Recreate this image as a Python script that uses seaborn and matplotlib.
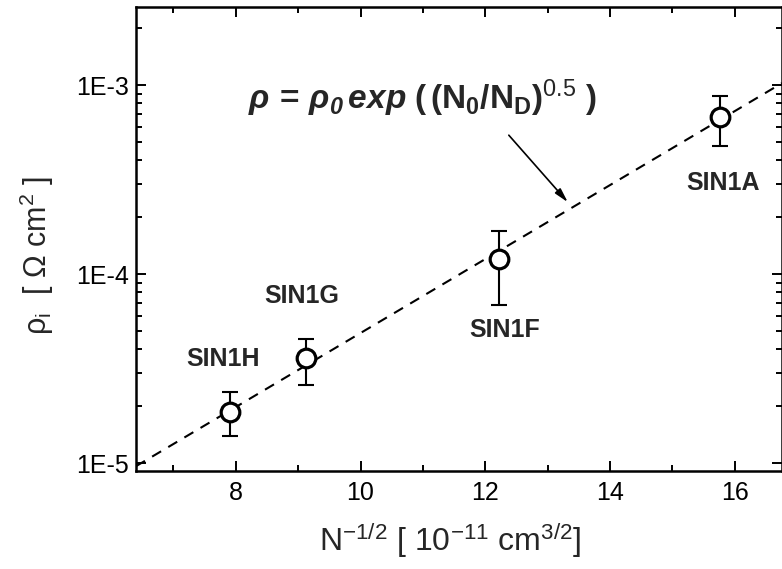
import numpy as np
import pandas as pd
import matplotlib
matplotlib.use("Agg")
import matplotlib.pyplot as plt
import matplotlib.ticker as mticker
import seaborn as sns

# ---- data ----
samples = ["SIN1H", "SIN1G", "SIN1F", "SIN1A"]
x_vals = [7.90, 9.13, 12.22, 15.77]
rho_vals = [1.87e-5, 3.58e-5, 1.20e-4, 6.8e-4]
rho_hi = [2.37e-5, 4.53e-5, 1.68e-4, 8.75e-4]
rho_lo = [1.39e-5, 2.59e-5, 6.9e-5, 4.75e-4]
fit_intercept = -6.269   # log10(rho) at x = 0
fit_slope = 0.1957       # per unit x
x_ticks = [8, 10, 12, 14, 16]
y_ticks = [1e-5, 1e-4, 1e-3]
y_ticklabels = ["1E-5", "1E-4", "1E-3"]

sns.set_theme(style="ticks")
plt.rcParams["font.family"] = ["Liberation Sans", "DejaVu Sans"]
plt.rcParams["mathtext.fontset"] = "custom"
plt.rcParams["mathtext.rm"] = "Liberation Sans"
plt.rcParams["mathtext.it"] = "Liberation Sans:italic"
plt.rcParams["mathtext.bf"] = "Liberation Sans:bold"
plt.rcParams["mathtext.bfit"] = "Liberation Sans:bold:italic"
plt.rcParams["mathtext.sf"] = "Liberation Sans"
plt.rcParams["axes.unicode_minus"] = False

fig = plt.figure(figsize=(7.82, 5.69), dpi=100)
ax = fig.add_axes([136 / 782, 1 - 471 / 569, 646 / 782, 464 / 569])

xlim = (6.40, 16.757)
ylim = (10 ** -5.042, 10 ** -2.587)

df = pd.DataFrame({"x": x_vals, "rho": rho_vals, "sample": samples})
xf = np.array(xlim)
fit_df = pd.DataFrame({"x": xf, "rho": 10 ** (fit_intercept + fit_slope * xf)})

sns.lineplot(data=fit_df, x="x", y="rho", ax=ax, color="black", lw=1.5,
             linestyle=(0, (5, 4)))

yerr = [np.array(rho_vals) - np.array(rho_lo), np.array(rho_hi) - np.array(rho_vals)]
ax.errorbar(x_vals, rho_vals, yerr=yerr, fmt="none", ecolor="black",
            elinewidth=1.5, capsize=6, capthick=1.5, zorder=3)
sns.scatterplot(data=df, x="x", y="rho", ax=ax, s=180, facecolor="white",
                edgecolor="black", linewidth=2.3, zorder=4, legend=False)

ax.set_yscale("log")
ax.set_xlim(*xlim)
ax.set_ylim(*ylim)

ax.set_xticks(x_ticks)
ax.set_xticklabels([str(t) for t in x_ticks], fontsize=18)
ax.xaxis.set_minor_locator(mticker.MultipleLocator(1))
ax.set_yticks(y_ticks)
ax.set_yticklabels(y_ticklabels, fontsize=18)
ax.yaxis.set_minor_locator(mticker.LogLocator(base=10, subs=np.arange(2, 10)))
ax.yaxis.set_minor_formatter(mticker.NullFormatter())

ax.tick_params(which="both", direction="in", top=True, right=True,
               width=1.4, colors="black")
ax.tick_params(which="major", length=7)
ax.tick_params(which="minor", length=4)
ax.tick_params(axis="x", pad=7)
ax.tick_params(axis="y", pad=5)
for s in ax.spines.values():
    s.set_linewidth(1.8)
    s.set_color("black")
    s.set_visible(True)

ax.set_xlabel("")
ax.set_ylabel("")
fig.text(450 / 782, 1 - 541 / 569,
         r"$\mathrm{N^{-1/2}\ [\ 10^{-11}\ cm^{3/2}]}$",
         ha="center", va="center", fontsize=23)
fig.text(37 / 782, 1 - 256 / 569,
         r"$\mathrm{\rho_i\ \ [\ \Omega\ cm^2\ ]}$",
         ha="center", va="center", rotation=90, fontsize=22)

# sample labels (offsets in points)
label_offsets = [(-5, 38), (-3, 45), (4, -51), (2, -48)]
for sname, xv, yv, off in zip(samples, x_vals, rho_vals, label_offsets):
    ax.annotate(sname, (xv, yv), xytext=off, textcoords="offset points",
                ha="center", va="center", fontsize=18, fontweight="bold")

ax.text(8.19, 7.5e-4,
        r"$\mathbfit{\rho}\,\mathbf{=}\,\mathbfit{\rho_0\,exp}\ \mathbf{(\,(N_0/N_D)^{\mathrm{0.5}}\ )}$",
        ha="left", va="baseline", fontsize=24)

ax.annotate("", xy=(13.323, 2.40e-4), xytext=(12.377, 5.43e-4),
            arrowprops=dict(arrowstyle="-|>,head_width=0.18,head_length=0.7",
                            color="black", lw=1.2, shrinkA=0, shrinkB=0))

fig.savefig("out.png", dpi=100)
